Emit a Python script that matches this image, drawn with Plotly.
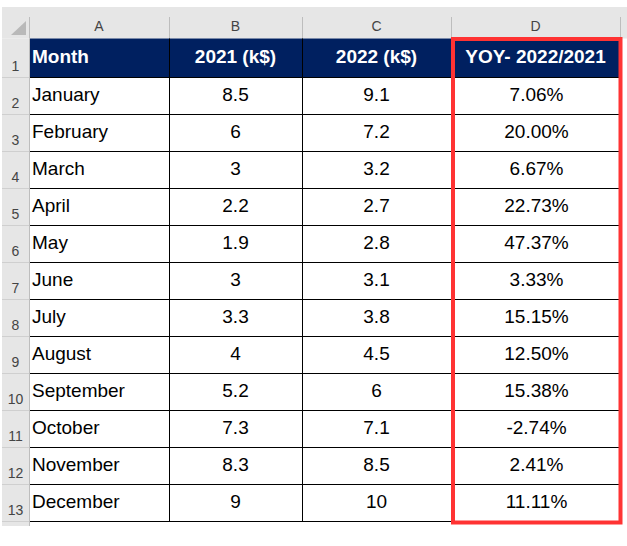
import plotly.graph_objects as go

# ---- data ----
col_letters = ["A", "B", "C", "D"]
headers = ["Month", "2021 (k$)", "2022 (k$)", "YOY- 2022/2021"]
months = ["January", "February", "March", "April", "May", "June", "July",
          "August", "September", "October", "November", "December"]
sales_2021 = [8.5, 6, 3, 2.2, 1.9, 3, 3.3, 4, 5.2, 7.3, 8.3, 9]
sales_2022 = [9.1, 7.2, 3.2, 2.7, 2.8, 3.1, 3.8, 4.5, 6, 7.1, 8.5, 10]
yoy_pct = [7.06, 20.00, 6.67, 22.73, 47.37, 3.33, 15.15, 12.50, 15.38, -2.74, 2.41, 11.11]
row_numbers = list(range(1, 14))

# ---- layout geometry (pixels) ----
W, H = 627, 546
col_edges = [29, 169, 302, 451, 620]
rowhdr_x0 = 2
colhdr_y0, colhdr_y1 = 7, 38.5
row1_top = 38.5
row_h = 37
row2_top = 77
n = len(months)
row_tops = [row1_top] + [row2_top + row_h * i for i in range(n)]
row_bots = [row2_top] + [row2_top + row_h * (i + 1) for i in range(n)]
table_bottom = row_bots[-1]

NAVY = "#002060"
HDR_GRAY = "#E6E6E6"
SEP_GRAY = "#BDBDBD"
RED = "#FF3333"
FONT = "Liberation Sans, Arial, sans-serif"

shapes = []
# column header band
shapes.append(dict(type="rect", x0=rowhdr_x0, x1=W, y0=colhdr_y0, y1=colhdr_y1,
                   fillcolor=HDR_GRAY, line_width=0, layer="below"))
# row header band
shapes.append(dict(type="rect", x0=rowhdr_x0, x1=col_edges[0], y0=colhdr_y1, y1=table_bottom + 5,
                   fillcolor=HDR_GRAY, line_width=0, layer="below"))
# corner triangle
shapes.append(dict(type="path", path="M 11 35 L 26 35 L 26 21 Z",
                   fillcolor="#B9B9B9", line_width=0, layer="below"))
# column header separators
for x in col_edges:
    shapes.append(dict(type="line", x0=x + 0.5, x1=x + 0.5, y0=17, y1=colhdr_y1,
                       line=dict(color=SEP_GRAY, width=1), layer="below"))
# row header separators
for y in row_bots:
    shapes.append(dict(type="line", x0=rowhdr_x0, x1=col_edges[0], y0=y + 0.5, y1=y + 0.5,
                       line=dict(color="#CFCFCF", width=1), layer="below"))
shapes.append(dict(type="line", x0=col_edges[0] + 0.5, x1=col_edges[0] + 0.5,
                   y0=colhdr_y1, y1=table_bottom + 5, line=dict(color=SEP_GRAY, width=1),
                   layer="below"))
# header row (navy)
shapes.append(dict(type="rect", x0=col_edges[0] + 1, x1=col_edges[-1], y0=row1_top, y1=row2_top,
                   fillcolor=NAVY, line_width=0, layer="below"))
# horizontal grid lines
for y in row_bots:
    shapes.append(dict(type="line", x0=col_edges[0] + 1, x1=col_edges[-1], y0=y + 0.5, y1=y + 0.5,
                       line=dict(color="#000000", width=1), layer="below"))
# vertical grid lines
for x in col_edges[1:]:
    shapes.append(dict(type="line", x0=x + 0.5, x1=x + 0.5, y0=row1_top, y1=table_bottom + 1,
                       line=dict(color="#000000", width=1), layer="below"))
# red highlight box around column D
shapes.append(dict(type="rect", x0=col_edges[3] + 2, x1=col_edges[4] + 0.5, y0=row1_top + 0.5,
                   y1=table_bottom + 1.5, line=dict(color=RED, width=4), fillcolor="rgba(0,0,0,0)"))

fig = go.Figure()

centers = [(a + b) / 2 for a, b in zip(col_edges[:-1], col_edges[1:])]
data_y = [(t + b) / 2 + 1 for t, b in zip(row_tops[1:], row_bots[1:])]
hdr_y = (row1_top + row2_top) / 2 + 0.5

# column letters
fig.add_trace(go.Scatter(x=centers, y=[27] * 4, text=col_letters, mode="text",
                         textfont=dict(family=FONT, size=14, color="#444444"),
                         textposition="middle center", hoverinfo="skip"))
# row numbers
fig.add_trace(go.Scatter(x=[15.5] * len(row_numbers), y=[b - 10 for b in row_bots],
                         text=[str(r) for r in row_numbers], mode="text",
                         textfont=dict(family=FONT, size=14, color="#444444"),
                         textposition="middle center", hoverinfo="skip"))
# header texts
fig.add_trace(go.Scatter(x=[col_edges[0] + 3], y=[hdr_y], text=["<b>" + headers[0] + "</b>"],
                         mode="text", textposition="middle right",
                         textfont=dict(family=FONT, size=19, color="white"), hoverinfo="skip"))
fig.add_trace(go.Scatter(x=centers[1:], y=[hdr_y] * 3, text=["<b>" + h + "</b>" for h in headers[1:]],
                         mode="text", textposition="middle center",
                         textfont=dict(family=FONT, size=19, color="white"), hoverinfo="skip"))
# month names
fig.add_trace(go.Scatter(x=[col_edges[0] + 3] * n, y=data_y, text=months, mode="text",
                         textposition="middle right",
                         textfont=dict(family=FONT, size=19, color="#000000"), hoverinfo="skip"))
# values
fig.add_trace(go.Scatter(x=[centers[1]] * n, y=data_y, text=[f"{v:g}" for v in sales_2021],
                         mode="text", textposition="middle center",
                         textfont=dict(family=FONT, size=19, color="#000000"), hoverinfo="skip"))
fig.add_trace(go.Scatter(x=[centers[2]] * n, y=data_y, text=[f"{v:g}" for v in sales_2022],
                         mode="text", textposition="middle center",
                         textfont=dict(family=FONT, size=19, color="#000000"), hoverinfo="skip"))
fig.add_trace(go.Scatter(x=[centers[3] + 1] * n, y=data_y, text=[f"{v:.2f}%" for v in yoy_pct],
                         mode="text", textposition="middle center",
                         textfont=dict(family=FONT, size=19, color="#000000"), hoverinfo="skip"))

fig.update_layout(
    width=W, height=H, margin=dict(l=0, r=0, t=0, b=0),
    paper_bgcolor="white", plot_bgcolor="white", showlegend=False,
    hovermode=False,
    shapes=shapes,
    xaxis=dict(range=[0, W], visible=False, fixedrange=True),
    yaxis=dict(range=[H, 0], visible=False, fixedrange=True),
)

fig.write_html("out.html", config={"displayModeBar": False, "staticPlot": True},
               post_script="document.body.style.margin='0px';")
